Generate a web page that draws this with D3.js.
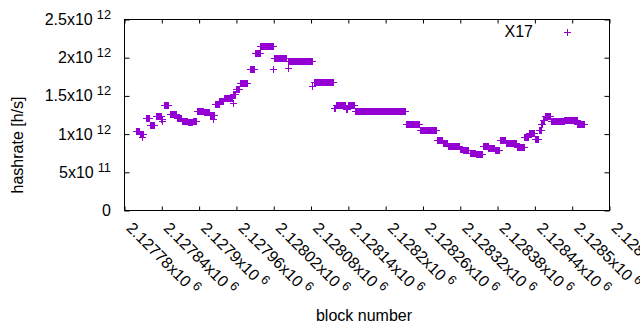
<!DOCTYPE html>
<html><head><meta charset="utf-8">
<script src="https://cdn.jsdelivr.net/npm/d3@7"></script>
<style>body{margin:0;background:#fff}svg{display:block}text{font-family:"Liberation Sans",Arial,sans-serif;fill:#000}</style>
</head><body><svg id="c" width="640" height="330"></svg>
<script>
// Plateaus of per-block hashrate: first block, last block, hashrate (x1e12 h/s)
const runStart = [2127799,2127806,2127815,2127822,2127831,2127840,2127844,2127854,2127865,2127873,2127883,2127891,2127897,2127909,2127918,2127926,2127933,2127941,2127955,2127960,2127966,2127982,2127990,2127999,2128021,2128044,2128085,2128117,2128121,2128137,2128140,2128151,2128233,2128256,2128283,2128293,2128301,2128320,2128325,2128336,2128346,2128357,2128366,2128376,2128384,2128394,2128412,2128424,2128431,2128441,2128447,2128451,2128454,2128457,2128466,2128488,2128509];
const runEnd   = [2127804,2127810,2127820,2127828,2127839,2127841,2127851,2127864,2127872,2127882,2127890,2127896,2127907,2127917,2127925,2127932,2127940,2127954,2127959,2127965,2127978,2127989,2127998,2128019,2128040,2128082,2128116,2128120,2128136,2128139,2128150,2128232,2128254,2128281,2128291,2128299,2128318,2128324,2128334,2128345,2128356,2128365,2128375,2128383,2128392,2128410,2128423,2128430,2128440,2128446,2128450,2128453,2128456,2128465,2128487,2128508,2128519];
const runValue = [1.04,0.99,1.21,1.11,1.23,1.19,1.37,1.255,1.2,1.17,1.15,1.17,1.30,1.28,1.24,1.39,1.43,1.46,1.52,1.58,1.66,1.84,2.05,2.15,1.995,1.955,1.68,1.34,1.375,1.32,1.37,1.29,1.12,1.05,0.92,0.88,0.84,0.80,0.78,0.75,0.73,0.84,0.81,0.78,0.92,0.875,0.83,0.95,1.01,0.93,1.05,1.13,1.18,1.23,1.16,1.18,1.12];
// Isolated blocks
const singleBlock = [2127809,2127841,2127923,2127955,2128020,2128043,2128083];
const singleValue = [0.95,1.16,1.19,1.40,1.85,1.865,1.62];

const xTickValues = [2127780,2127840,2127900,2127960,2128020,2128080,2128140,2128200,2128260,2128320,2128380,2128440,2128500,2128560];
const xTickMant = ["2.12778","2.12784","2.1279","2.12796","2.12802","2.12808","2.12814","2.1282","2.12826","2.12832","2.12838","2.12844","2.1285","2.12856"];
const xTickExp = "6";
const yTickValues = [0,0.5e12,1e12,1.5e12,2e12,2.5e12];
const yTickMant = ["0","5","1","1.5","2","2.5"];
const yTickExp = ["","11","12","12","12","12"];
const seriesName = "X17";

const points = [];
runStart.forEach((s,i)=>{ for(let b=s;b<=runEnd[i];b++) points.push([b, runValue[i]*1e12]); });
singleBlock.forEach((b,i)=>points.push([b, singleValue[i]*1e12]));

const L=124, R=609, T=19, B=210;
const svg = d3.select("#c");
const x = d3.scaleLinear().domain([2127780,2128560]).range([L+0.5,R+0.5]);
const y = d3.scaleLinear().domain([0,2.5e12]).range([B+0.5,T+0.5]);
const col = "#9400d3";
const fs = 16;

// y axis ticks & labels
const yAx = d3.axisLeft(y).tickValues(yTickValues).tickSizeInner(-5).tickSizeOuter(0).tickFormat("");
svg.append("g").attr("transform",`translate(${L+0.5},0)`).call(yAx).call(g=>g.select(".domain").remove()).selectAll("line").attr("stroke","#000");
const yAxR = d3.axisRight(y).tickValues(yTickValues).tickSizeInner(-5).tickSizeOuter(0).tickFormat("");
svg.append("g").attr("transform",`translate(${R+0.5},0)`).call(yAxR).call(g=>g.select(".domain").remove()).selectAll("line").attr("stroke","#000");
yTickValues.forEach((v,i)=>{
  const t = svg.append("text").attr("x",111).attr("y",y(v)+5.5).attr("text-anchor","end").attr("font-size",fs);
  t.append("tspan").text(yTickMant[i] + (yTickExp[i]?"x10":""));
  if(yTickExp[i]) t.append("tspan").attr("dx",4).attr("dy",-6).attr("font-size",fs*0.8).text(yTickExp[i]);
});

// x axis ticks & labels
const xAx = d3.axisBottom(x).tickValues(xTickValues).tickSizeInner(-4).tickSizeOuter(0).tickFormat("");
svg.append("g").attr("transform",`translate(0,${B+0.5})`).call(xAx).call(g=>g.select(".domain").remove()).selectAll("line").attr("stroke","#000");
const xAxT = d3.axisTop(x).tickValues(xTickValues).tickSizeInner(-4).tickSizeOuter(0).tickFormat("");
svg.append("g").attr("transform",`translate(0,${T+0.5})`).call(xAxT).call(g=>g.select(".domain").remove()).selectAll("line").attr("stroke","#000");
xTickValues.forEach((v,i)=>{
  const t = svg.append("text").attr("transform",`translate(${x(v)+1},${B+19}) rotate(45)`).attr("font-size",fs);
  t.append("tspan").text(xTickMant[i]+"x10");
  t.append("tspan").attr("dx",4).attr("dy",-6).attr("font-size",fs*0.8).text(xTickExp);
});

// border
svg.append("rect").attr("x",L+0.5).attr("y",T+0.5).attr("width",R-L).attr("height",B-T).attr("fill","none").attr("stroke","#000");

// axis titles
svg.append("text").attr("x",364).attr("y",321).attr("text-anchor","middle").attr("font-size",fs).text("block number");
svg.append("text").attr("transform","translate(23,145) rotate(-90)").attr("text-anchor","middle").attr("font-size",fs).text("hashrate [h/s]");

// points
const plus = (cx,cy,a)=>`M${cx-a},${cy+0.5}H${cx+a+1}M${cx+0.5},${cy-a}V${cy+a+1}`;
svg.append("path").attr("fill","none").attr("stroke",col).attr("stroke-width",1).attr("shape-rendering","crispEdges")
  .attr("d", points.map(p=>plus(Math.round(x(p[0])-0.5),Math.round(y(p[1])-0.5),3)).join(""));

// legend
svg.append("text").attr("x",533).attr("y",37).attr("text-anchor","end").attr("font-size",fs).text(seriesName);
svg.append("path").attr("fill","none").attr("stroke",col).attr("shape-rendering","crispEdges").attr("d",plus(567,32,3));
</script></body></html>
